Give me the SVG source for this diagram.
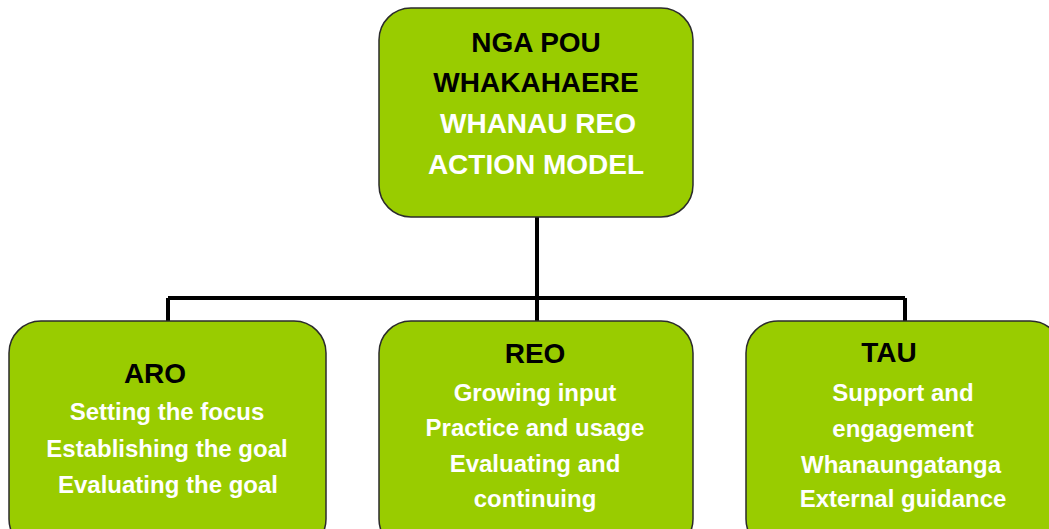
<svg xmlns="http://www.w3.org/2000/svg" width="1049" height="529" viewBox="0 0 1049 529">
<style>
.box{fill:#99cc00;stroke:#2b2b2b;stroke-width:1.5}
.t{font-family:"Liberation Sans",Arial,sans-serif;font-weight:bold;text-anchor:middle}
.h{font-size:28px;fill:#000}
.w{font-size:28px;fill:#fff}
.b{font-size:24px;fill:#fff}
.c{stroke:#000;stroke-width:4;fill:none}
</style>
<rect width="1049" height="529" fill="#fff"/>
<g id="connectors">
<path class="c" d="M537 217V298M168 298H905M168 298V321M537 298V321M905 298V321"/>
</g>
<g id="top">
<rect class="box" x="379" y="8" width="314" height="209" rx="32"/>
<text class="t h" x="536" y="52">NGA POU</text>
<text class="t h" x="536" y="92">WHAKAHAERE</text>
<text class="t w" x="538" y="133">WHANAU REO</text>
<text class="t w" x="536" y="174">ACTION MODEL</text>
</g>
<g id="aro">
<rect class="box" x="9" y="321" width="317" height="230" rx="32"/>
<text class="t h" x="155" y="383">ARO</text>
<text class="t b" x="167" y="420">Setting the focus</text>
<text class="t b" x="167" y="457">Establishing the goal</text>
<text class="t b" x="168" y="493">Evaluating the goal</text>
</g>
<g id="reo">
<rect class="box" x="379" y="321" width="314" height="230" rx="32"/>
<text class="t h" x="535" y="363">REO</text>
<text class="t b" x="535" y="401">Growing input</text>
<text class="t b" x="535" y="436">Practice and usage</text>
<text class="t b" x="535" y="472">Evaluating and</text>
<text class="t b" x="535" y="507">continuing</text>
</g>
<g id="tau">
<rect class="box" x="746" y="321" width="316" height="230" rx="32"/>
<text class="t h" x="889" y="362">TAU</text>
<text class="t b" x="903" y="401">Support and</text>
<text class="t b" x="903" y="437">engagement</text>
<text class="t b" x="901" y="473">Whanaungatanga</text>
<text class="t b" x="903" y="507">External guidance</text>
</g>
</svg>
